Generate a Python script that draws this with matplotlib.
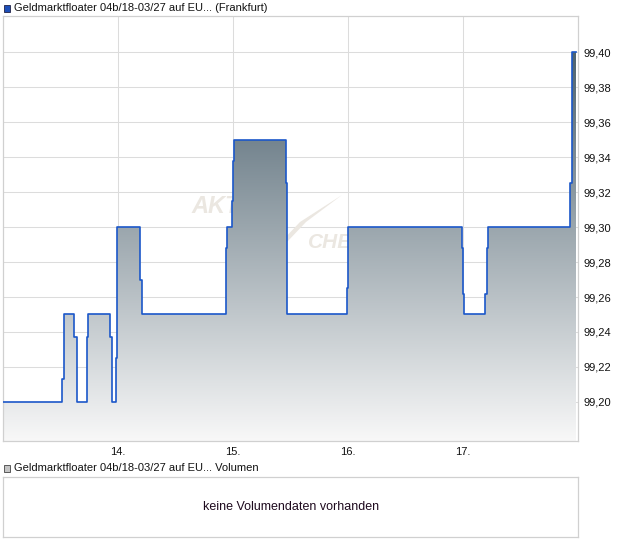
import numpy as np
import matplotlib.pyplot as plt
from matplotlib.patches import Rectangle, Polygon
from matplotlib.colors import LinearSegmentedColormap

plt.rcParams['font.family'] = ['Liberation Sans', 'DejaVu Sans']

# price series (day of month, price), drawn as steps
days = [13.000, 13.517, 13.529, 13.534, 13.618, 13.642, 13.729, 13.742,
        13.931, 13.951, 13.985, 13.994, 14.191, 14.211, 14.934, 14.945,
        14.986, 15.000, 15.006, 15.463, 15.471, 15.990, 16.000, 16.989,
        17.000, 17.006, 17.191, 17.206, 17.214, 17.928, 17.942, 17.948,
        17.980]
prices = [99.200, 99.213, 99.237, 99.250, 99.237, 99.200, 99.237, 99.250,
          99.237, 99.200, 99.225, 99.300, 99.270, 99.250, 99.288, 99.300,
          99.315, 99.338, 99.350, 99.325, 99.250, 99.265, 99.300, 99.288,
          99.262, 99.250, 99.262, 99.288, 99.300, 99.325, 99.375, 99.400,
          99.400]
x_ticks = [14, 15, 16, 17]
x_labels = ['14.', '15.', '16.', '17.']
y_ticks = [99.20, 99.22, 99.24, 99.26, 99.28, 99.30, 99.32, 99.34, 99.36,
           99.38, 99.40]

title_main = 'Geldmarktfloater 04b/18-03/27 auf EU... (Frankfurt)'
title_vol = 'Geldmarktfloater 04b/18-03/27 auf EU... Volumen'
no_vol = 'keine Volumendaten vorhanden'

W, H = 620, 546
fig = plt.figure(figsize=(W / 100, H / 100), dpi=100)


def fx(px):
    return px / W


def fy(py):
    return 1 - py / H


grid_c = '#dcdcdc'
spine_c = '#d0d0d0'

# main price panel
ax = fig.add_axes([fx(3), fy(441), fx(578.3) - fx(3), fy(16) - fy(441)])
ylo, yhi = 99.1777, 99.4206
xlo, xhi = 13.0, 18.0
ax.set_xlim(xlo, xhi)
ax.set_ylim(ylo, yhi)

# watermark (behind the fill)
wm = '#ebe7e1'
ax.text(0.328, 0.536, 'AKTIEN', transform=ax.transAxes, fontsize=17,
        style='italic', fontweight='bold', color=wm, zorder=1)
ax.text(0.530, 0.454, 'CHECK', transform=ax.transAxes, fontsize=15,
        style='italic', fontweight='bold', color=wm, zorder=1)
sw_px = [(281, 242), (300, 222), (342, 195), (306, 222), (287, 242)]
sw = [((px - 3) / 575.3, (441 - py) / 425) for px, py in sw_px]
ax.add_patch(Polygon(sw, closed=True, transform=ax.transAxes,
                     facecolor=wm, edgecolor='none', zorder=1))

# gradient fill under the line
cmap = LinearSegmentedColormap.from_list('fill', ['#f8f8f8', '#4e6370'])
grad = np.linspace(0, 1, 256).reshape(-1, 1)
im = ax.imshow(grad, cmap=cmap, origin='lower', aspect='auto',
               extent=[xlo, xhi, ylo, 99.40], zorder=2)
poly = ax.fill_between(days, prices, ylo, step='post',
                       facecolor='none', edgecolor='none')
im.set_clip_path(poly.get_paths()[0], transform=ax.transData)
ax.set_xlim(xlo, xhi)
ax.set_ylim(ylo, yhi)

ax.step(days, prices, where='post', color='#1b57c9', lw=1.2, zorder=3)

ax.set_xticks(x_ticks)
ax.set_xticklabels(x_labels)
ax.set_yticks(y_ticks)
ax.set_yticklabels([f'{v:.2f}'.replace('.', ',') for v in y_ticks])
ax.yaxis.tick_right()
ax.tick_params(length=0, labelsize=8, colors='#111111')
ax.tick_params(axis='y', pad=4)
ax.tick_params(axis='x', pad=4)
ax.grid(True, color=grid_c, lw=0.75, zorder=0)
ax.set_axisbelow(True)
for s in ax.spines.values():
    s.set_color(spine_c)
    s.set_linewidth(0.9)

# volume panel
axv = fig.add_axes([fx(3), fy(537), fx(578.3) - fx(3), fy(477) - fy(537)])
axv.set_xticks([])
axv.set_yticks([])
for s in axv.spines.values():
    s.set_color(spine_c)
    s.set_linewidth(0.9)
axv.text(0.5, 0.5, no_vol, transform=axv.transAxes, ha='center',
         va='center', fontsize=9, color='#1e0a1e')

# panel titles with colour squares
fig.add_artist(Rectangle((fx(3.5), fy(11.5)), fx(7), 7 / H,
                         transform=fig.transFigure, facecolor='#1d4fb8',
                         edgecolor='#222244', lw=0.6))
fig.text(fx(14), fy(8), title_main, fontsize=8, va='center', color='#111111')
fig.add_artist(Rectangle((fx(3.5), fy(471.5)), fx(7), 7 / H,
                         transform=fig.transFigure, facecolor='#c4c4c4',
                         edgecolor='#444444', lw=0.6))
fig.text(fx(14), fy(468), title_vol, fontsize=8, va='center', color='#111111')

fig.savefig('out.png', dpi=100)
